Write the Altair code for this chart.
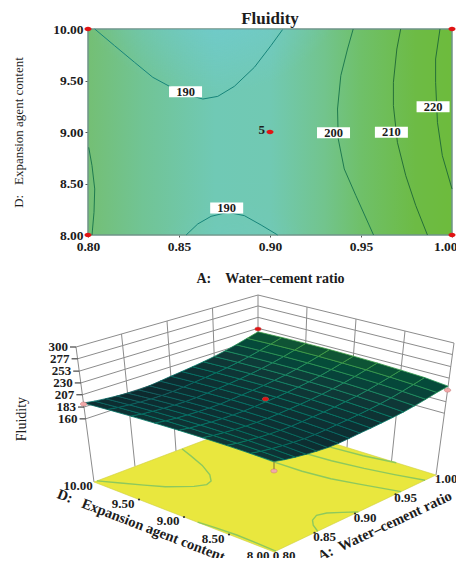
import altair as alt

FONT = "Liberation Serif"
TXT = "#1c1c1c"

# ---------- values ----------
A_TICKS = [0.80, 0.85, 0.90, 0.95, 1.00]
D_TICKS = [8.00, 8.50, 9.00, 9.50, 10.00]
Z_TICKS = [160, 183, 207, 230, 253, 277, 300]

C190_TOP_A = [.8037,.8146,.8256,.8356,.8448,.8530,.8631,.8713,.8804,.8914,.9005,.9069]
C190_TOP_D = [10,9.838,9.676,9.531,9.443,9.369,9.320,9.346,9.443,9.628,9.838,9.994]
C190_BOT_A = [.8539,.8603,.8676,.8768,.8859,.8951,.9042]
C190_BOT_D = [8,8.107,8.181,8.22,8.188,8.097,8]
C200_L_A = [.8004,.8022,.8037,.8033,.8022]
C200_L_D = [8.851,8.673,8.447,8.22,8]
C200_A = [.9457,.9426,.9389,.9371,.9375,.9408,.9472,.9569]
C200_D = [10,9.806,9.547,9.223,8.932,8.641,8.382,8]
C210_A = [.9718,.9697,.9678,.9678,.97,.9746,.9801,.9865]
C210_D = [10,9.806,9.482,9.256,8.9,8.576,8.285,8]
C220_A = [.9934,.991,.991,.992,.9947,1.0]
C220_D = [10,9.709,9.482,9.094,8.77,8.447]

LABEL_A = [.8536,.8762,.9349,.9667,.9896]
LABEL_D = [9.39,8.262,8.993,8.997,9.246]
LABEL_T = ["190","190","200","210","220"]

DESIGN_A = [.8,.8,1.0,1.0,.9]
DESIGN_D = [8,10,8,10,9]

SURF_A = [.8,.8125,.825,.8375,.85,.8625,.875,.8875,.9,.9125,.925,.9375,.95,.9625,.975,.9875,1.0]
SURF_D = [8,8.25,8.5,8.75,9,9.25,9.5,9.75,10]
SURF_F = [
 [201,196.7,193.4,190.7,188.5,187,186.8,188.1,189.8,191,192.7,194.7,197.1,200.6,205.1,210,214],
 [201.5,197.7,194.8,192.6,190.8,189.6,189.5,190.5,192,193.2,195,197.1,199.7,203.3,207.9,213,218.6],
 [201.5,198,195.6,193.6,192.2,191.4,191.2,192.1,193.5,194.8,196.6,198.9,201.6,205.3,210.1,215.3,221],
 [201,197.8,195.7,194,192.8,192.2,192,192.9,194.4,195.8,197.6,200,202.9,206.7,211.6,217,222.8],
 [200,197,195,193.5,192.5,192,192,193,194.5,196,198,200.5,203.5,207.5,212.5,218,224],
 [198.5,195.6,193.7,192.3,191.4,191,191.1,192.3,194,195.7,197.8,200.4,203.6,207.7,212.8,218.5,224.6],
 [196.5,193.6,191.7,190.3,189.4,189,189.4,190.8,192.7,194.6,196.9,199.7,203,207.2,212.5,218.3,224.5],
 [194,190.9,189,187.5,186.4,186,186.8,188.5,190.8,193,195.4,198.3,201.8,206.1,211.5,217.5,223.8],
 [191,187.7,185.6,183.9,182.7,182.2,183.2,185.5,188.2,190.6,193.3,196.3,199.9,204.4,209.9,216,222.5],
]
# observed runs in the lower view: A, D, Fluidity, colour
RUN_A = [.8,.8,1.0,1.0,.9]
RUN_D = [8,10,8,10,9]
RUN_F = [184,189,206,228.5,200]
RUN_C = ["#f2a9a9","#f2a9a9","#f2a9a9","#e01414","#e01414"]

HEAT_X = [0,.15,.35,.5,.65,.75,.9,1]
HEAT_C = ["#74bf74","#71c495","#70c9b5","#71c9b3","#72c48d","#6fc069","#6dbb45","#6dbb3c"]

# ---------- upper panel ----------
contours = []
for name, col, aa, dd in [
    ("a","#17857a",C190_TOP_A,C190_TOP_D),("b","#17857a",C190_BOT_A,C190_BOT_D),
    ("c","#1f7a4f",C200_L_A,C200_L_D),("d","#1f7a4f",C200_A,C200_D),
    ("e","#256f38",C210_A,C210_D),("f","#256f38",C220_A,C220_D)]:
    for i,(a,d) in enumerate(zip(aa,dd)):
        contours.append({"id":name,"i":i,"A":a,"D":d,"c":col})

xs = alt.Scale(domain=[.8,1.0],nice=False,zero=False)
ys = alt.Scale(domain=[8,10],nice=False,zero=False)
xa = alt.X("A:Q",scale=xs,axis=alt.Axis(values=A_TICKS,format=".2f",title="A:\u00a0\u00a0\u00a0\u00a0Water\u2013cement ratio",labelFlush=False,
        labelAlign=alt.expr("datum.value >= 1 ? 'right' : 'center'"),labelOffset=alt.expr("datum.value >= 1 ? 5 : 0"),
        labelFont=FONT,labelFontSize=13.5,labelFontWeight="bold",labelColor=TXT,grid=False,domain=False,tickColor="#555",tickSize=2,labelPadding=2,
        titleFont=FONT,titleFontSize=14,titleFontWeight="bold",titleColor=TXT,titlePadding=19))
ya = alt.Y("D:Q",scale=ys,axis=alt.Axis(values=D_TICKS,format=".2f",title="D:\u00a0\u00a0\u00a0Expansion agent content",labelFlush=False,
        labelFont=FONT,labelFontSize=13.5,labelFontWeight="bold",labelColor=TXT,grid=False,domain=False,tickColor="#555",tickSize=3,labelPadding=2,
        titleFont=FONT,titleFontSize=13,titleFontWeight="normal",titleColor=TXT,titlePadding=27))

box = alt.Data(values=[{"a0":.8,"a1":1.0,"d0":8,"d1":10}])
base_rect = alt.Chart(box).mark_rect(
    fill=alt.LinearGradient(gradient="linear",x1=0,x2=1,y1=0,y2=0,
        stops=[alt.GradientStop(offset=o,color=c) for o,c in zip(HEAT_X,HEAT_C)]),
    stroke="#6f9488",strokeWidth=1.5).encode(x=xa,x2="a1:Q",y=ya,y2="d1:Q").transform_calculate(A="datum.a0",D="datum.d0")

def radial(cx,cy,col):
    return {"gradient":"radial","x1":cx,"y1":cy,"r1":0,"x2":cx,"y2":cy,"r2":.55,
            "stops":[{"offset":0,"color":col},{"offset":1,"color":col.replace(",0.85)",",0)").replace(",0.5)",",0)")}]}
top_blob = alt.Chart(alt.Data(values=[{"A":.80,"a1":.95,"D":9.0,"d1":10}])).mark_rect(
    fill=radial(.45,0,"rgba(112,205,232,0.85)")).encode(x=alt.X("A:Q",scale=xs),x2="a1:Q",y=alt.Y("D:Q",scale=ys),y2="d1:Q")
bot_blob = alt.Chart(alt.Data(values=[{"A":.83,"a1":.93,"D":8.0,"d1":8.5}])).mark_rect(
    fill=radial(.5,1,"rgba(110,203,200,0.5)")).encode(x=alt.X("A:Q",scale=xs),x2="a1:Q",y=alt.Y("D:Q",scale=ys),y2="d1:Q")

c_lines = alt.Chart(alt.Data(values=contours)).mark_line(strokeWidth=1).encode(
    x=alt.X("A:Q",scale=xs),y=alt.Y("D:Q",scale=ys),detail="id:N",order="i:Q",color=alt.Color("c:N",scale=None))

labels = [{"A":a,"D":d,"t":t} for a,d,t in zip(LABEL_A,LABEL_D,LABEL_T)]
lab_box = alt.Chart(alt.Data(values=labels)).mark_rect(width=33,height=11,fill="white").encode(
    x=alt.X("A:Q",scale=xs),y=alt.Y("D:Q",scale=ys))
lab_txt = alt.Chart(alt.Data(values=labels)).mark_text(font=FONT,fontSize=12.5,fontWeight="bold",color=TXT).encode(
    x=alt.X("A:Q",scale=xs),y=alt.Y("D:Q",scale=ys),text="t:N")

ELLIPSE = "M-1,0A1,.62 0 1 0 1,0A1,.62 0 1 0 -1,0Z"
design = [{"A":a,"D":d} for a,d in zip(DESIGN_A,DESIGN_D)]
pts = alt.Chart(alt.Data(values=design)).mark_point(shape=ELLIPSE,size=49,filled=True,fill="#e01414",stroke=None,opacity=1).encode(
    x=alt.X("A:Q",scale=xs),y=alt.Y("D:Q",scale=ys))
five = alt.Chart(alt.Data(values=[{"A":.9,"D":9,"t":"5"}])).mark_text(font=FONT,fontSize=13,fontWeight="bold",color=TXT,align="right",dx=-5,dy=-2).encode(
    x=alt.X("A:Q",scale=xs),y=alt.Y("D:Q",scale=ys),text="t:N")

top = alt.layer(base_rect,top_blob,bot_blob,c_lines,lab_box,lab_txt,pts,five).properties(
    width=364,height=206,
    title=alt.TitleParams("Fluidity",font=FONT,fontSize=17,fontWeight="bold",color=TXT,anchor="middle",offset=-6))

# ---------- lower panel: perspective view of (A, D, Fluidity) ----------
F00,F10,F01,F11 = (273,550),(435,473),(93,480),(257,418)
T00,T10,T01,T11 = (273,405),(453,341),(75,345),(257,293)
Z_FLOOR, Z_TOP = 37, 300
X0, Y0 = 87, 284

def P(a,d,f):
    u=(a-.8)/.2; v=(d-8)/2; w=(f-Z_FLOOR)/(Z_TOP-Z_FLOOR)
    out=[]
    for k in (0,1):
        fl=(1-u)*(1-v)*F00[k]+u*(1-v)*F10[k]+(1-u)*v*F01[k]+u*v*F11[k]
        tp=(1-u)*(1-v)*T00[k]+u*(1-v)*T10[k]+(1-u)*v*T01[k]+u*v*T11[k]
        out.append(fl+(tp-fl)*w)
    return out

def line_rows(seqs):
    rows=[]
    for n,seq in enumerate(seqs):
        for i,(a,d,f) in enumerate(seq):
            x,y=P(a,d,f)
            rows.append({"id":n,"i":i,"lon":x,"lat":y})
    return rows

def lines(seqs,**kw):
    return alt.Chart(alt.Data(values=line_rows(seqs))).mark_line(clip=False,**kw).encode(
        longitude="lon:Q",latitude="lat:Q",detail="id:N",order="i:Q")

def texts(rows,ox=0,oy=0,**kw):
    vals=[]
    for (a,d,f,t) in rows:
        x,y=P(a,d,f); vals.append({"lon":x+ox,"lat":y+oy,"t":t})
    return alt.Chart(alt.Data(values=vals)).mark_text(font=FONT,color=TXT,clip=False,**kw).encode(
        longitude="lon:Q",latitude="lat:Q",text="t:N")

WALL = "#8c8c8c"
wall_seqs = [[(.8,10,z),(1,10,z),(1,8,z)] for z in Z_TICKS]
wall_seqs += [[(a,10,Z_FLOOR),(a,10,Z_TOP)] for a in (.8,.85,.9,.95,1.0)]
wall_seqs += [[(1,d,Z_FLOOR),(1,d,Z_TOP)] for d in (8,8.5,9,9.5)]
walls = lines(wall_seqs,color=WALL,strokeWidth=1)
z_ticks = alt.Chart(alt.Data(values=[{"lon":P(.8,10,z)[0],"lat":P(.8,10,z)[1]} for z in Z_TICKS])).mark_point(
    shape="M-6,0L0,0",size=4,stroke="#444",strokeWidth=1.2,filled=False,opacity=1,clip=False).encode(longitude="lon:Q",latitude="lat:Q")

def poly(corners,props):
    ring=[P(*c) for c in corners]; ring.append(ring[0])
    return {"type":"Feature","properties":props,"geometry":{"type":"Polygon","coordinates":[ring]}}

PROJ = dict(type="identity",scale=1,translate=[-X0,-Y0])

floor = alt.Chart(alt.Data(values=[poly([(.8,8,Z_FLOOR),(1,8,Z_FLOOR),(1,10,Z_FLOOR),(.8,10,Z_FLOOR)],{"n":1})])).mark_geoshape(
    fill="#e9e73e",stroke="#cfcf40",strokeWidth=.6,clip=False)

floor_seqs=[[(a,d,Z_FLOOR) for a,d in zip(aa,dd)] for aa,dd in [
    (C190_TOP_A,C190_TOP_D),(C190_BOT_A,C190_BOT_D),(C200_L_A,C200_L_D),(C200_A,C200_D),(C210_A,C210_D),(C220_A,C220_D)]]
floor_lines = lines(floor_seqs,color="#8dc95d",strokeWidth=1.4)

quads=[]
for j in range(len(SURF_D)-1):
    for i in range(len(SURF_A)-1):
        q=[(SURF_A[i],SURF_D[j],SURF_F[j][i]),(SURF_A[i+1],SURF_D[j],SURF_F[j][i+1]),
           (SURF_A[i+1],SURF_D[j+1],SURF_F[j+1][i+1]),(SURF_A[i],SURF_D[j+1],SURF_F[j+1][i])]
        quads.append(poly(q,{"F":sum(p[2] for p in q)/4}))
surface = alt.Chart(alt.Data(values=quads)).mark_geoshape(strokeWidth=.8,clip=False).encode(
    fill=alt.Fill("properties.F:Q",legend=None,scale=alt.Scale(domain=[182,225],range=["#0d282d","#103a38","#1a5a30"])),
    stroke=alt.Stroke("properties.F:Q",legend=None,scale=alt.Scale(domain=[182,225],range=["#145a5c","#178a66","#4ea23a"])))

stem = lines([[(.8,8,RUN_F[0]),(.8,8,SURF_F[0][0])]],color="#8a8a3a",strokeWidth=1.2)

runs=[]
for a,d,f,c in zip(RUN_A,RUN_D,RUN_F,RUN_C):
    x,y=P(a,d,f); runs.append({"lon":x,"lat":y,"c":c})
run_pts = alt.Chart(alt.Data(values=runs)).mark_point(shape=ELLIPSE,size=42,filled=True,stroke="#b86a6a",strokeWidth=.4,opacity=1,clip=False).encode(
    longitude="lon:Q",latitude="lat:Q",fill=alt.Fill("c:N",scale=None))

edge_ticks = alt.Chart(alt.Data(values=
    [{"lon":P(a,8,Z_FLOOR)[0],"lat":P(a,8,Z_FLOOR)[1]} for a in A_TICKS[1:4]]+
    [{"lon":P(.8,d,Z_FLOOR)[0],"lat":P(.8,d,Z_FLOOR)[1]} for d in D_TICKS[1:4]])).mark_circle(size=5,color="#333",opacity=1,clip=False).encode(
    longitude="lon:Q",latitude="lat:Q")

z_labels = texts([(.8,10,z,str(z)) for z in Z_TICKS],ox=-8,fontSize=13,fontWeight="bold",align="right",baseline="middle")
a_labels = texts([(a,8,Z_FLOOR,f"{a:.2f}") for a in A_TICKS],ox=10,oy=4,fontSize=13,fontWeight="bold",align="center",baseline="middle")
d_labels = texts([(.8,d,Z_FLOOR,f"{d:.2f}") for d in D_TICKS],ox=-16,oy=4,fontSize=13,fontWeight="bold",align="center",baseline="middle")
d_title = texts([(.8,9,Z_FLOOR,"D:\u00a0\u00a0\u00a0Expansion agent content")],ox=-43,oy=9,fontSize=14.5,fontWeight="bold",angle=21,baseline="middle",align="center")
a_title = texts([(.9,8,Z_FLOOR,"A:\u00a0\u00a0Water\u2013cement ratio")],ox=30,oy=13,fontSize=14.5,fontWeight="bold",angle=335,baseline="middle",align="center")
z_title = texts([(.8,10,183,"Fluidity")],ox=-62,oy=12,fontSize=14,angle=270,baseline="middle",align="center")

bottom = alt.layer(walls,z_ticks,floor,floor_lines,surface,stem,edge_ticks,run_pts,z_labels,a_labels,d_labels,d_title,a_title,z_title
    ).project(**PROJ).resolve_scale(fill="independent",stroke="independent").properties(width=364,height=262)

chart = alt.vconcat(top,bottom,spacing=0).properties(padding={"left":4,"top":2,"right":-2,"bottom":-7}).configure_view(stroke=None)
chart.save("out.html",embed_options={"renderer":"svg","actions":False})
